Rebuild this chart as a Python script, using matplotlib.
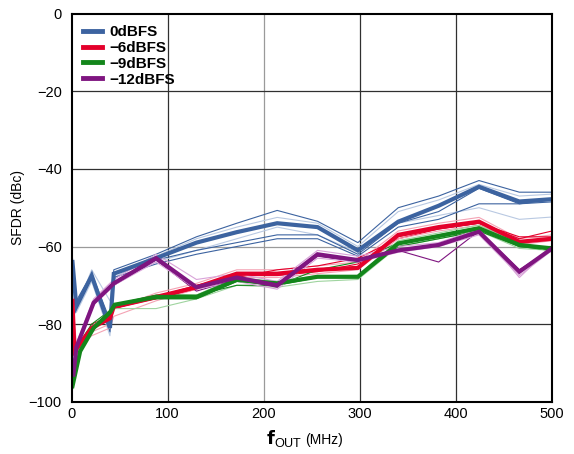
import matplotlib
matplotlib.use("Agg")
import matplotlib.pyplot as plt

plt.rcParams['font.family'] = ['Liberation Sans', 'DejaVu Sans']

# Main traces (frequency in MHz, SFDR in dBc)
f_0 = [1, 5, 21, 40, 44, 88, 130, 172, 214, 256, 298, 340, 382, 424, 466, 500]
sfdr_0 = [-64, -75.5, -67.5, -81, -67, -63, -59, -56.3, -54, -55, -61, -53.6, -49.5, -44.6, -48.4, -47.8]

f_6 = [1, 3, 21, 40, 44, 88, 130, 172, 214, 256, 298, 340, 382, 424, 466, 500]
sfdr_6 = [-74, -87, -81, -78.5, -75.5, -73, -70.5, -67, -67, -66, -65.5, -57, -55, -53.6, -58.8, -58]

f_9 = [1, 9, 23, 40, 45, 88, 130, 172, 214, 256, 298, 340, 382, 424, 466, 500]
sfdr_9 = [-96, -87, -81, -77, -75, -73, -73, -68.6, -69.5, -67.8, -67.8, -59.2, -57.3, -55.3, -59.6, -60.5]

f_12 = [2, 5, 23, 44, 88, 130, 172, 214, 256, 298, 340, 382, 424, 466, 500]
sfdr_12 = [-93, -86, -74.5, -69.5, -63, -70.5, -68, -70, -62, -63.5, -61, -59.6, -56.2, -66.5, -60.5]

# Individual device traces (thin lines)
f_thin = [1, 5, 21, 40, 44, 88, 130, 172, 214, 256, 298, 340, 382, 424, 466, 500]
thin_0 = [
    ("dark", [-63, -74, -67, -79, -66, -62, -57.5, -54, -50.7, -53.5, -59, -50, -47, -43, -46, -46]),
    ("light", [-65, -76, -66, -74, -68, -62.5, -58, -55, -52.5, -54, -60, -51, -48, -44, -47, -46.5]),
    ("light", [-64, -77, -69, -83, -69, -64, -61, -58, -55, -57, -61.5, -54, -52, -50, -53, -52.4]),
    ("dark", [-65, -76, -68, -82, -68, -64.5, -62, -60, -58, -58, -62.5, -55, -53, -49, -49, -48.5]),
    ("dark", [-64, -75, -68, -80, -67, -63.5, -61, -59, -57, -57, -62, -54, -51, -45, -49, -48]),
]
thin_6 = [
    ("light", [-73, -85, -82, -80, -76, -72, -69.5, -66, -66, -65, -64, -56, -54, -52.5, -58, -57]),
    ("dark", [-75, -88, -80, -78, -76, -73.5, -71, -68, -66, -65, -63, -58, -55.5, -54, -58, -56]),
    ("light", [-74, -86, -83, -81, -78, -74, -71, -68, -68, -67, -66, -58, -56, -54.5, -59.5, -58.5]),
    ("dark", [-75, -87, -81, -79, -76, -73, -70, -67.5, -67.5, -66.5, -64.5, -57.5, -55.5, -54, -57.5, -57.5]),
]
thin_9 = [
    ("light", [-97, -89, -82, -77, -76, -76, -73.5, -70, -70.5, -69, -68.5, -60, -58, -56, -60.5, -61]),
    ("dark", [-95, -86, -80, -76.5, -75, -72.5, -72.5, -70, -70, -66, -64, -59, -57, -55, -60, -61]),
    ("light", [-96, -88, -80.5, -77.5, -75.5, -73, -72.5, -68, -69, -67.5, -67.5, -58.5, -56.5, -54.5, -59, -61.5]),
    ("dark", [-96, -87, -81.5, -77, -75, -73.5, -73.5, -69, -70, -68, -68, -60, -58, -56, -60, -60]),
]
thin_12 = [
    ("light", [-92, -85, -73.5, -68.5, -62, -68.5, -67, -69, -61, -62.5, -60, -59, -55.5, -68, -60]),
    ("dark", [-93, -86, -75, -70, -63.5, -71.5, -68.5, -70.5, -62.5, -64, -61, -64, -56, -66, -60.5]),
    ("light", [-94, -87, -75, -70, -64, -71, -69, -71, -63, -64, -61.5, -60, -57, -67.5, -61]),
]

labels = ["0dBFS", "\u22126dBFS", "\u22129dBFS", "\u221212dBFS"]
colors = ["#3C63A0", "#E4002B", "#13861B", "#7F1580"]
lights = ["#B9C9E2", "#F4A3B4", "#9FD49F", "#D9A3D9"]

fig = plt.figure(figsize=(5.74, 4.54), dpi=100)
ax = fig.add_axes([0.1246, 0.1152, 0.8371, 0.8546])

# grid
for v in [100, 200, 300, 400]:
    ax.axvline(v, color="#9a9a9a" if v == 200 else "#303030", lw=0.9, zorder=0)
for v in [-80, -60, -40, -20]:
    ax.axhline(v, color="#9a9a9a" if v == -60 else "#303030", lw=0.9, zorder=0)

groups = [
    (f_0, sfdr_0, thin_0, f_thin),
    (f_6, sfdr_6, thin_6, f_thin),
    (f_9, sfdr_9, thin_9, f_thin),
    (f_12, sfdr_12, thin_12, f_12),
]
handles = []
for i, (fx, fy, thins, ftx) in enumerate(groups):
    for kind, ty in thins:
        ax.plot(ftx, ty, color=(lights[i] if kind == "light" else colors[i]),
                lw=0.8, zorder=2 + i)
for i, (fx, fy, thins, ftx) in enumerate(groups):
    h, = ax.plot(fx, fy, color=colors[i], lw=3.0, zorder=6 + i,
                 solid_joinstyle="miter", label=labels[i])
    handles.append(h)

ax.set_xlim(0, 500)
ax.set_ylim(-100, 0)
ax.set_xticks([0, 100, 200, 300, 400, 500])
ax.set_yticks([-100, -80, -60, -40, -20, 0])
ax.tick_params(axis="y", length=0, labelsize=10.5, pad=7)
ax.tick_params(axis="x", length=0, labelsize=10.5, pad=4)
for s in ax.spines.values():
    s.set_linewidth(1.5)
    s.set_color("black")
    s.set_zorder(20)

ax.set_ylabel("SFDR (dBc)", fontsize=10)
ax.yaxis.set_label_coords(-0.097, 0.5)

# x-axis title: large bold f with subscript, smaller unit text
fig.text(0.527, 0.022, r"$\mathbf{f}_{\mathregular{OUT}}$", fontsize=13,
         ha="right", va="baseline")
fig.text(0.531, 0.022, "(MHz)", fontsize=10, ha="left", va="baseline")

leg = ax.legend(handles=handles, loc="upper left", frameon=False,
                handlelength=1.25, handletextpad=0.45, labelspacing=0.12,
                borderaxespad=0.35, prop={"weight": "bold", "size": 11})
for lh in leg.get_lines():
    lh.set_linewidth(3.5)

fig.savefig("out.png", dpi=100)
